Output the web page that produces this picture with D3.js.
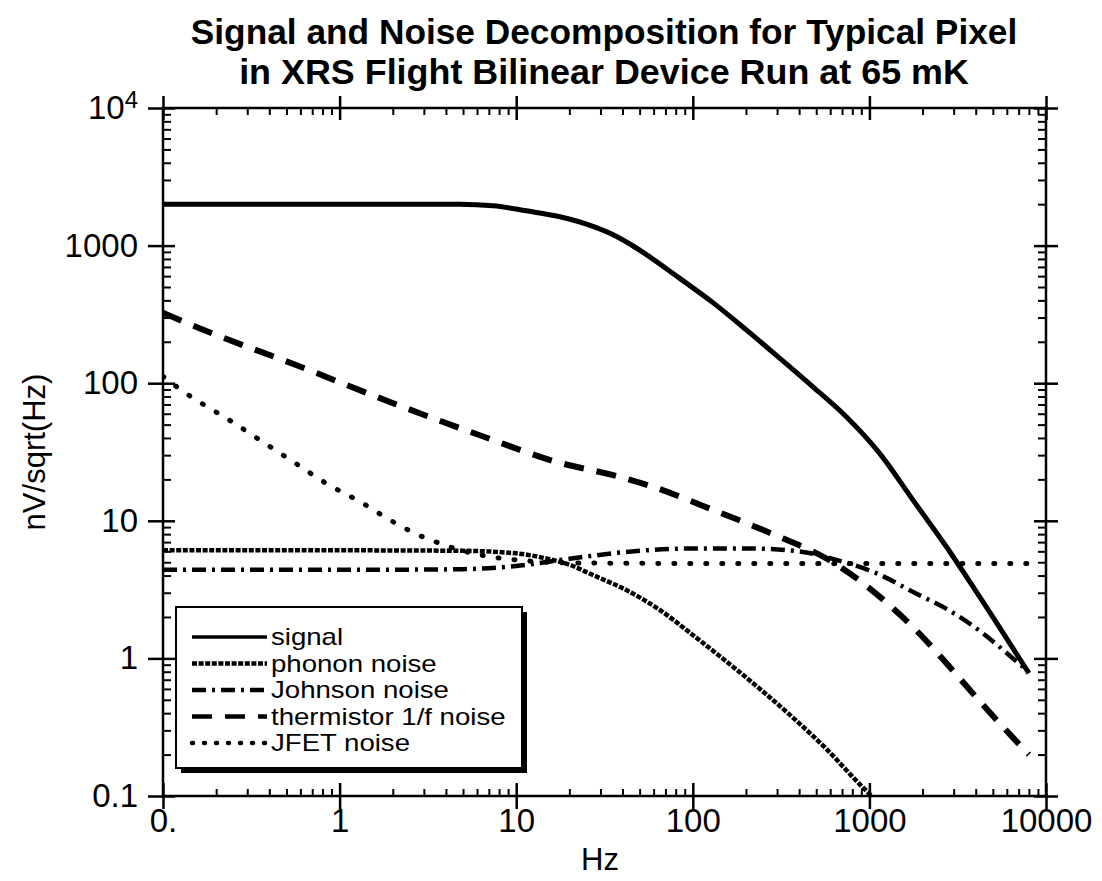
<!DOCTYPE html>
<html>
<head>
<meta charset="utf-8">
<script src="https://cdn.jsdelivr.net/npm/d3@7/dist/d3.min.js"></script>
<style>
body { margin: 0; background: #fff; }
text { font-family: "Liberation Sans", Arial, sans-serif; fill: #000; }
</style>
</head>
<body>
<svg id="chart"></svg>
<script>
const titleLines = ["Signal and Noise Decomposition for Typical Pixel", "in XRS Flight Bilinear Device Run at 65 mK"];
const xLabel = "Hz";
const yLabel = "nV/sqrt(Hz)";

const xTickValues = [0.1, 1, 10, 100, 1000, 10000];
const xTickLabels = ["0.", "1", "10", "100", "1000", "10000"];
const yTickValues = [0.1, 1, 10, 100, 1000, 10000];
const yTickLabels = ["0.1", "1", "10", "100", "1000", "10^4"];

// curves (Hz, nV/sqrt(Hz))
const signalFreq = [0.1, 1, 4.8, 7.4, 11.4, 17.7, 27.2, 35.4, 45, 54.6, 84, 130, 201, 310, 479, 740, 1143, 1762, 2723, 4204, 8000];
const signalVal = [2000, 2000, 2000, 1950, 1790, 1620, 1380, 1200, 1010, 860, 580, 385, 244, 152, 94, 57, 30.9, 14.2, 6.5, 2.81, 0.78];

const phononFreq = [0.1, 1, 5, 10, 15, 20, 27, 42, 65, 100, 155, 240, 370, 570, 880, 1100];
const phononVal = [6.1, 6.1, 6.05, 5.8, 5.3, 4.8, 4.05, 3.14, 2.25, 1.48, 0.95, 0.6, 0.37, 0.22, 0.122, 0.092];

const johnsonFreq = [0.1, 1, 5, 10, 20, 40, 100, 200, 400, 650, 1100, 1800, 2800, 4400, 6500, 8000];
const johnsonVal = [4.4, 4.4, 4.45, 4.7, 5.3, 5.9, 6.3, 6.3, 6.0, 5.2, 4.15, 3.0, 2.25, 1.52, 1.0, 0.8];

const thermFreq = [0.1, 0.162, 0.571, 2.01, 6.93, 16.2, 37.8, 57, 130, 284, 621, 900, 1219, 1841, 2843, 4390, 8000];
const thermVal = [325, 250, 135, 71.5, 39.8, 27.2, 21.0, 18.0, 12.0, 8.0, 5.0, 3.6, 2.62, 1.6, 0.87, 0.46, 0.2];

const jfetFreq = [0.1, 0.12, 0.148, 0.184, 0.229, 0.354, 0.546, 0.84, 1.3, 2, 2.85, 3.54, 4.3, 7, 10, 20, 100, 1000, 8000];
const jfetVal = [112, 94, 78, 65.7, 55.6, 38.6, 26.9, 18.7, 13.8, 9.86, 7.8, 7.0, 6.4, 5.5, 5.2, 4.95, 4.9, 4.9, 4.9];

const legendNames = ["signal", "phonon noise", "Johnson noise", "thermistor 1/f noise", "JFET noise"];

const width = 1102;
const height = 881;
const plotLeft = 163, plotRight = 1046, plotTop = 108, plotBottom = 796;

var series = [
    { name: legendNames[0], f: signalFreq, v: signalVal, w: 5, dash: null, cap: "butt" },
    { name: legendNames[1], f: phononFreq, v: phononVal, w: 4.5, dash: "5,1.6", cap: "butt" },
    { name: legendNames[2], f: johnsonFreq, v: johnsonVal, w: 4.5, dash: "14,6,3,6", cap: "butt" },
    { name: legendNames[3], f: thermFreq, v: thermVal, w: 6, dash: "20,13", cap: "butt" },
    { name: legendNames[4], f: jfetFreq, v: jfetVal, w: 5, dash: "1,15", cap: "round" }
];

const svg = d3.select("#chart")
    .attr("width", width)
    .attr("height", height);

svg.append("rect").attr("width", width).attr("height", height).attr("fill", "#fff");

const x = d3.scaleLog().domain([0.1, 10000]).range([plotLeft, plotRight]);
const y = d3.scaleLog().domain([0.1, 10000]).range([plotBottom, plotTop]);

// minor ticks 2..9 in each decade
var minors = [];
for (let d of [0.1, 1, 10, 100, 1000]) {
    for (let k = 2; k < 10; k++) minors.push(k * d);
}

// title, squeezed sideways to look like the narrow bold face of the original
const titleWidths = [827, 730];
svg.append("g")
    .selectAll("text")
    .data(titleLines)
    .enter()
    .append("text")
    .attr("text-anchor", "middle")
    .style("font-weight", "bold")
    .style("font-size", "35px")
    .text(d => d)
    .attr("transform", function (d, i) {
        let k = titleWidths[i] / this.getComputedTextLength();
        return `translate(604,${44 + i * 40}) scale(${k},1)`;
    });

// curves
svg.append("clipPath").attr("id", "plot-clip")
    .append("rect").attr("x", plotLeft).attr("y", plotTop)
    .attr("width", plotRight - plotLeft).attr("height", plotBottom - plotTop);

const line = d3.line()
    .x(d => x(d[0]))
    .y(d => y(d[1]))
    .curve(d3.curveMonotoneX);

svg.append("g")
    .attr("clip-path", "url(#plot-clip)")
    .selectAll("path")
    .data(series)
    .enter()
    .append("path")
    .attr("d", s => line(s.f.map((f, i) => [f, s.v[i]])))
    .attr("fill", "none")
    .attr("stroke", "#000")
    .attr("stroke-width", s => s.w)
    .attr("stroke-dasharray", s => s.dash)
    .attr("stroke-linecap", s => s.cap);

// axes: majors cross the frame, minors point inward
function styleAxis(g, sw) {
    g.select(".domain").remove();
    g.selectAll(".tick line").attr("stroke", "#000").attr("stroke-width", sw);
    g.attr("font-family", null).attr("font-size", null);
    g.selectAll("text").style("font-size", "33px");
}

svg.append("g").attr("transform", `translate(0,${plotBottom})`)
    .call(d3.axisBottom(x).tickValues(xTickValues).tickFormat((d, i) => xTickLabels[i]).tickSize(13).tickPadding(0))
    .call(g => styleAxis(g, 2.5));
svg.append("g").attr("transform", `translate(0,${plotBottom})`)
    .call(d3.axisBottom(x).tickValues(xTickValues).tickFormat("").tickSize(-13))
    .call(g => styleAxis(g, 2.5));
svg.append("g").attr("transform", `translate(0,${plotBottom})`)
    .call(d3.axisBottom(x).tickValues(minors).tickFormat("").tickSize(-7))
    .call(g => styleAxis(g, 2));

svg.append("g").attr("transform", `translate(0,${plotTop})`)
    .call(d3.axisTop(x).tickValues(xTickValues).tickFormat("").tickSize(12))
    .call(g => styleAxis(g, 2.5));
svg.append("g").attr("transform", `translate(0,${plotTop})`)
    .call(d3.axisTop(x).tickValues(xTickValues).tickFormat("").tickSize(-12))
    .call(g => styleAxis(g, 2.5));
svg.append("g").attr("transform", `translate(0,${plotTop})`)
    .call(d3.axisTop(x).tickValues(minors).tickFormat("").tickSize(-7))
    .call(g => styleAxis(g, 2));

const yAxisG = svg.append("g").attr("transform", `translate(${plotLeft},0)`)
    .call(d3.axisLeft(y).tickValues(yTickValues).tickFormat((d, i) => yTickLabels[i]).tickSize(15).tickPadding(10))
    .call(g => styleAxis(g, 2.5));
svg.append("g").attr("transform", `translate(${plotLeft},0)`)
    .call(d3.axisLeft(y).tickValues(yTickValues).tickFormat("").tickSize(-12))
    .call(g => styleAxis(g, 2.5));
svg.append("g").attr("transform", `translate(${plotLeft},0)`)
    .call(d3.axisLeft(y).tickValues(minors).tickFormat("").tickSize(-8))
    .call(g => styleAxis(g, 2));

svg.append("g").attr("transform", `translate(${plotRight},0)`)
    .call(d3.axisRight(y).tickValues(yTickValues).tickFormat("").tickSize(12))
    .call(g => styleAxis(g, 2.5));
svg.append("g").attr("transform", `translate(${plotRight},0)`)
    .call(d3.axisRight(y).tickValues(yTickValues).tickFormat("").tickSize(-12))
    .call(g => styleAxis(g, 2.5));
svg.append("g").attr("transform", `translate(${plotRight},0)`)
    .call(d3.axisRight(y).tickValues(minors).tickFormat("").tickSize(-8))
    .call(g => styleAxis(g, 2));

// 10^4 with a raised exponent
yAxisG.selectAll(".tick text")
    .filter(d => d === 10000)
    .text(null)
    .call(t => {
        t.append("tspan").text("10");
        t.append("tspan").attr("dy", "-0.45em").style("font-size", "24px").text("4");
    });

svg.append("rect")
    .attr("x", plotLeft).attr("y", plotTop)
    .attr("width", plotRight - plotLeft).attr("height", plotBottom - plotTop)
    .attr("fill", "none").attr("stroke", "#000").attr("stroke-width", 2.5);

// axis titles
svg.append("text")
    .attr("x", 600).attr("y", 870)
    .attr("text-anchor", "middle")
    .style("font-size", "31px")
    .text(xLabel);

svg.append("text")
    .attr("transform", "translate(45,452) rotate(-90)")
    .attr("text-anchor", "middle")
    .style("font-size", "31px")
    .text(yLabel);

// legend with drop shadow
const lg = svg.append("g").attr("transform", "translate(176,607)");
lg.append("rect").attr("x", 5).attr("y", 5).attr("width", 346).attr("height", 161).attr("fill", "#000");
lg.append("rect").attr("width", 346).attr("height", 161).attr("fill", "#fff").attr("stroke", "#000").attr("stroke-width", 2);

const item = lg.selectAll("g.item")
    .data(series)
    .enter()
    .append("g")
    .attr("class", "item")
    .attr("transform", (d, i) => `translate(0,${30 + i * 26.5})`);

item.append("line")
    .attr("x1", 16).attr("x2", 91)
    .attr("stroke", "#000")
    .attr("stroke-width", d => d === series[0] ? 3.5 : Math.min(d.w, 4.5))
    .attr("stroke-dasharray", d => d === series[4] ? "1,11" : d.dash)
    .attr("stroke-linecap", d => d.cap);

// legend text in the original is wide and short
item.append("text")
    .attr("transform", "translate(95,0) scale(1.2,1)")
    .attr("dy", "0.36em")
    .style("font-size", "23px")
    .text(d => d.name);
</script>
</body>
</html>
